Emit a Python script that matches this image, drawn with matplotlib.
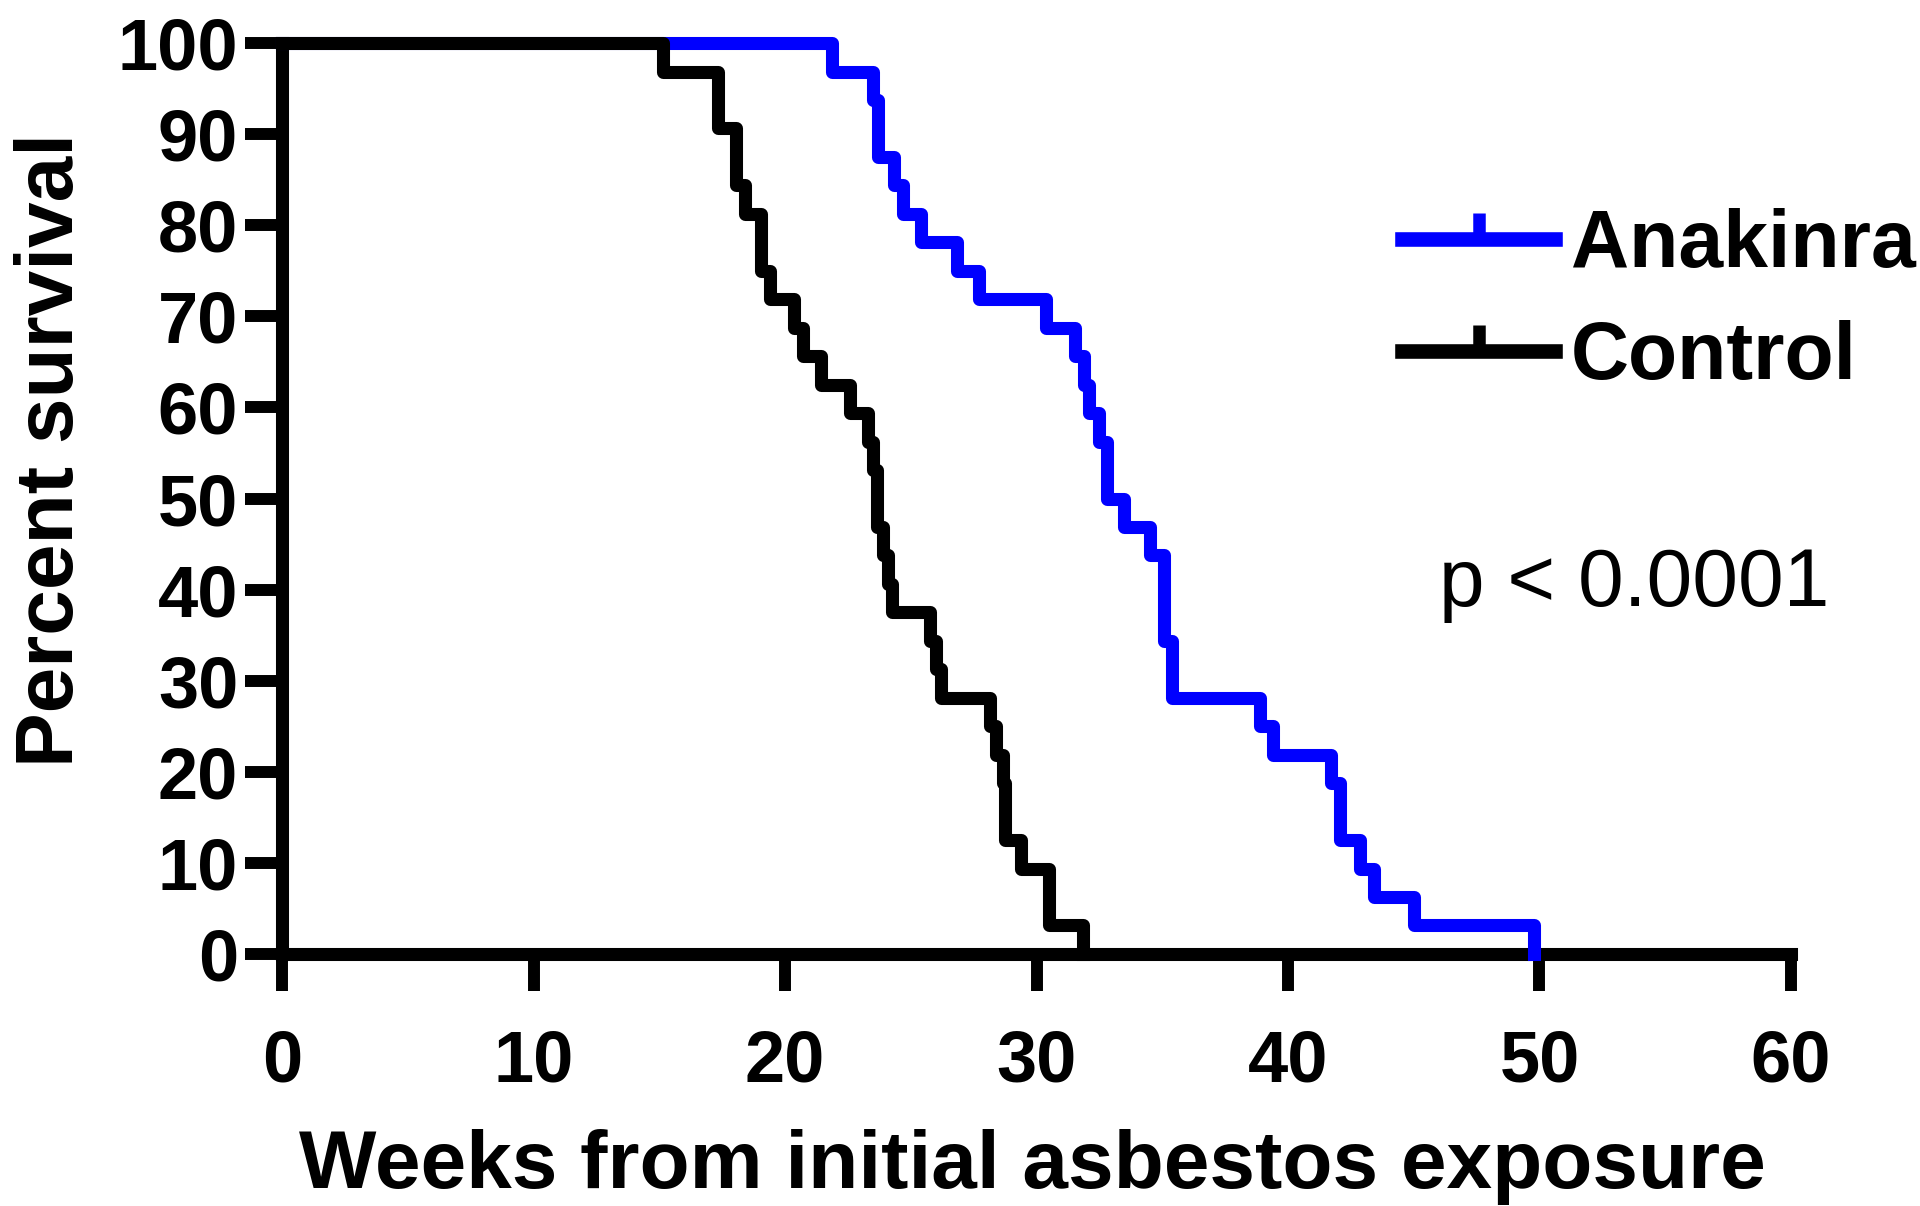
import numpy as np
import matplotlib
matplotlib.use("Agg")
import matplotlib.pyplot as plt
from matplotlib.lines import Line2D

# Kaplan-Meier steps (n = 32 per group)
anakinra_weeks = [0, 21.87, 23.5, 23.7, 24.35, 24.7, 25.42, 26.84, 27.73, 30.39, 31.55, 31.9,
                  32.1, 32.5, 32.8, 33.46, 34.5, 35.06, 35.4, 38.87, 39.4, 41.7, 42.07, 42.87,
                  43.4, 45.0, 49.8]
anakinra_surv = [100, 96.875, 93.75, 87.5, 84.375, 81.25, 78.125, 75, 71.875, 68.75, 65.625, 62.5,
                 59.375, 56.25, 50, 46.875, 43.75, 34.375, 28.125, 25, 21.875, 18.75, 12.5, 9.375,
                 6.25, 3.125, 0]

control_weeks = [0, 15.13, 17.35, 18.06, 18.41, 19.03, 19.39, 20.36, 20.72, 21.43, 22.58, 23.3,
                 23.5, 23.65, 23.9, 24.1, 24.24, 25.77, 26.0, 26.2, 28.14, 28.4, 28.67, 28.76,
                 29.4, 30.5, 31.86]
control_surv = [100, 96.875, 90.625, 84.375, 81.25, 75, 71.875, 68.75, 65.625, 62.5, 59.375, 56.25,
                53.125, 46.875, 43.75, 40.625, 37.5, 34.375, 31.25, 28.125, 25, 21.875, 18.75, 12.5,
                9.375, 3.125, 0]

x_ticks = [0, 10, 20, 30, 40, 50, 60]
y_ticks = [0, 10, 20, 30, 40, 50, 60, 70, 80, 90, 100]

plt.rcParams['font.family'] = ['Liberation Sans', 'DejaVu Sans']

fig = plt.figure(figsize=(19.2, 12.06), dpi=100)
ax = fig.add_axes([0.1469, 0.2090, 0.7859, 0.7553])

lw = 9.4
ax.step(anakinra_weeks, anakinra_surv, where='post', color='#0000ff', linewidth=lw,
        clip_on=False, zorder=3)
ax.step(control_weeks, control_surv, where='post', color='black', linewidth=lw,
        clip_on=False, zorder=4)

ax.set_xlim(0, 60)
ax.set_ylim(0, 100)
ax.set_xticks(x_ticks)
ax.set_yticks(y_ticks)

for side in ['top', 'right']:
    ax.spines[side].set_visible(False)
for side in ['left', 'bottom']:
    ax.spines[side].set_linewidth(9.4)
    ax.spines[side].set_capstyle('projecting')

ax.tick_params(axis='both', direction='out', length=26.5, width=8.6, color='black')
ax.tick_params(axis='x', pad=27)
ax.tick_params(axis='y', pad=5)
for lab in ax.get_xticklabels() + ax.get_yticklabels():
    lab.set_fontsize(52)
    lab.set_fontweight('bold')

ax.set_xlabel("Weeks from initial asbestos exposure", fontsize=59, fontweight='bold')
ax.set_ylabel("Percent survival", fontsize=59, fontweight='bold')
ax.xaxis.set_label_coords(0.497, -0.192)
ax.yaxis.set_label_coords(-0.127, 0.553)

handles = [Line2D([], [], color='#0000ff', linewidth=10.5, marker=2, markersize=19,
                  markeredgewidth=9),
           Line2D([], [], color='black', linewidth=10.5, marker=2, markersize=19,
                  markeredgewidth=9)]
leg = ax.legend(handles, ['Anakinra', 'Control'], loc='upper left',
                bbox_to_anchor=(0.7422, 0.8190), frameon=False, borderpad=0,
                borderaxespad=0, handlelength=1.9, handletextpad=0.2,
                labelspacing=0.45, numpoints=1,
                prop={'size': 58, 'weight': 'bold'})

ax.text(46.0, 38.2, "p < 0.0001", fontsize=59, ha='left', va='baseline')

fig.savefig("out.png", dpi=100)
